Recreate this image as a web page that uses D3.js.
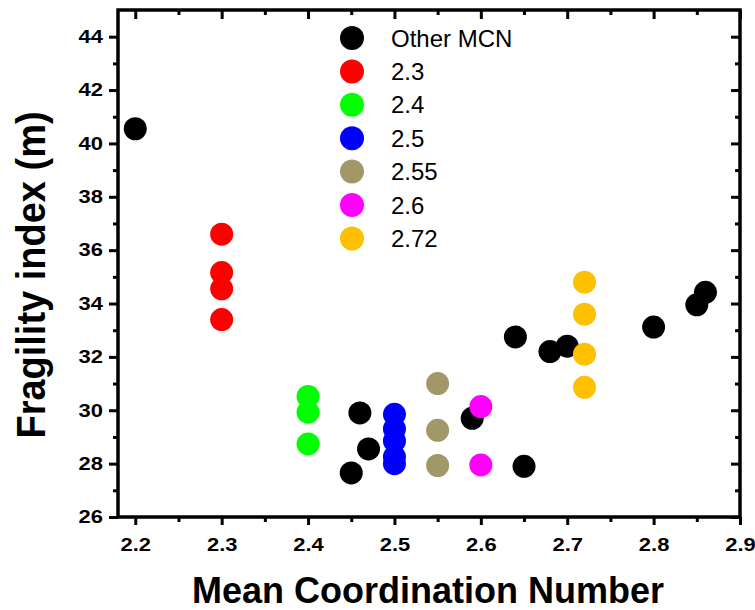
<!DOCTYPE html>
<html>
<head>
<meta charset="utf-8">
<script src="https://cdn.jsdelivr.net/npm/d3@7"></script>
<style>
  body { margin: 0; background: #fff; }
  svg { display: block; }
  text { font-family: "Liberation Sans", Arial, sans-serif; }
</style>
</head>
<body>
<svg id="chart" width="755" height="610"></svg>
<script>
// series values: [mcn, fragility index]
const otherMCN = [[2.2, 40.55], [2.45, 27.65], [2.46, 29.9], [2.47, 28.55], [2.59, 29.7],
                  [2.65, 27.9], [2.64, 32.75], [2.68, 32.2], [2.70, 32.4], [2.80, 33.12],
                  [2.85, 33.95], [2.86, 34.42]];
const mcn23 = [[2.3, 36.6], [2.3, 35.16], [2.3, 34.55], [2.3, 33.4]];
const mcn24 = [[2.4, 30.52], [2.4, 29.93], [2.4, 28.74]];
const mcn25 = [[2.5, 29.85], [2.5, 29.3], [2.5, 28.85], [2.5, 28.25], [2.5, 28.0]];
const mcn255 = [[2.55, 31.0], [2.55, 29.25], [2.55, 27.93]];
const mcn26 = [[2.6, 30.14], [2.6, 27.95]];
const mcn272 = [[2.72, 34.8], [2.72, 33.6], [2.72, 32.1], [2.72, 30.86]];

const seriesNames = ["Other MCN", "2.3", "2.4", "2.5", "2.55", "2.6", "2.72"];
const seriesData = [otherMCN, mcn23, mcn24, mcn25, mcn255, mcn26, mcn272];
const seriesColors = ["#000000", "#ff0000", "#00ff00", "#0000ff", "#a09868", "#ff00ff", "#ffc000"];

const xTicks = [2.2, 2.3, 2.4, 2.5, 2.6, 2.7, 2.8, 2.9];
const xMinor = [2.25, 2.35, 2.45, 2.55, 2.65, 2.75, 2.85];
const yTicks = [26, 28, 30, 32, 34, 36, 38, 40, 42, 44];
const yMinor = [27, 29, 31, 33, 35, 37, 39, 41, 43];

const svg = d3.select("#chart");
const plot = {left: 118, right: 740, top: 10, bottom: 517};

const x = d3.scaleLinear().domain([2.18, 2.9]).range([plot.left, plot.right]);
const y = d3.scaleLinear().domain([26, 45]).range([plot.bottom, plot.top]);

// frame axes
const fmt = d3.format(".1f");
const bottomAxis = svg.append("g").attr("transform", "translate(0," + plot.bottom + ")")
    .call(d3.axisBottom(x).tickValues(xTicks).tickFormat(fmt).tickSize(8).tickSizeOuter(0));
svg.append("g").attr("transform", "translate(0," + plot.bottom + ")")
    .call(d3.axisBottom(x).tickValues(xMinor).tickFormat("").tickSize(5).tickSizeOuter(0));
svg.append("g").attr("transform", "translate(0," + plot.top + ")")
    .call(d3.axisBottom(x).tickValues(xTicks).tickFormat("").tickSize(9).tickSizeOuter(0));
svg.append("g").attr("transform", "translate(0," + plot.top + ")")
    .call(d3.axisBottom(x).tickValues(xMinor).tickFormat("").tickSize(5).tickSizeOuter(0));

const leftAxis = svg.append("g").attr("transform", "translate(" + plot.left + ",0)")
    .call(d3.axisLeft(y).tickValues(yTicks).tickFormat(d3.format("d")).tickSize(9).tickSizeOuter(0));
svg.append("g").attr("transform", "translate(" + plot.left + ",0)")
    .call(d3.axisLeft(y).tickValues(yMinor).tickFormat("").tickSize(5).tickSizeOuter(0));
svg.append("g").attr("transform", "translate(" + plot.right + ",0)")
    .call(d3.axisLeft(y).tickValues(yTicks).tickFormat("").tickSize(9).tickSizeOuter(0));
svg.append("g").attr("transform", "translate(" + plot.right + ",0)")
    .call(d3.axisLeft(y).tickValues(yMinor).tickFormat("").tickSize(5).tickSizeOuter(0));

svg.selectAll(".domain").remove();
svg.selectAll(".tick line").attr("stroke", "#000").attr("stroke-width", 3);

svg.append("rect")
    .attr("x", plot.left).attr("y", plot.top)
    .attr("width", plot.right - plot.left).attr("height", plot.bottom - plot.top)
    .attr("fill", "none").attr("stroke", "#000").attr("stroke-width", 3.5);

// tick labels are a bit wide in the original, so stretch them sideways
bottomAxis.selectAll(".tick text")
    .attr("x", 0).attr("y", 0).attr("dy", "0.71em")
    .attr("transform", "translate(0,21) scale(1.22,1)")
    .style("font-size", "18px").style("font-weight", "bold").attr("fill", "#000");
leftAxis.selectAll(".tick text")
    .attr("x", 0)
    .attr("transform", "translate(-15,0) scale(1.22,1)")
    .style("font-size", "18px").style("font-weight", "bold").attr("fill", "#000");

// points, black first so coloured ones sit on top
seriesData.forEach((pts, i) => {
    svg.append("g").selectAll("circle")
        .data(pts).enter().append("circle")
        .attr("cx", d => x(d[0]))
        .attr("cy", d => y(d[1]))
        .attr("r", 11.5)
        .attr("fill", seriesColors[i]);
});

// legend
const legend = svg.append("g").attr("transform", "translate(352,38)");
seriesNames.forEach((name, i) => {
    const row = legend.append("g").attr("transform", "translate(0," + (i * 33.4) + ")");
    row.append("circle").attr("r", 12).attr("fill", seriesColors[i]);
    row.append("text").attr("x", 39).attr("dy", "0.36em")
        .style("font-size", "24px").text(name);
});

// axis titles
svg.append("text")
    .attr("x", 428).attr("y", 603)
    .attr("text-anchor", "middle")
    .style("font-size", "36px").style("font-weight", "bold")
    .text("Mean Coordination Number");

svg.append("text")
    .attr("transform", "translate(45,275) rotate(-90) scale(1,1.08)")
    .attr("text-anchor", "middle")
    .style("font-size", "38px").style("font-weight", "bold")
    .text("Fragility index (m)");
</script>
</body>
</html>
